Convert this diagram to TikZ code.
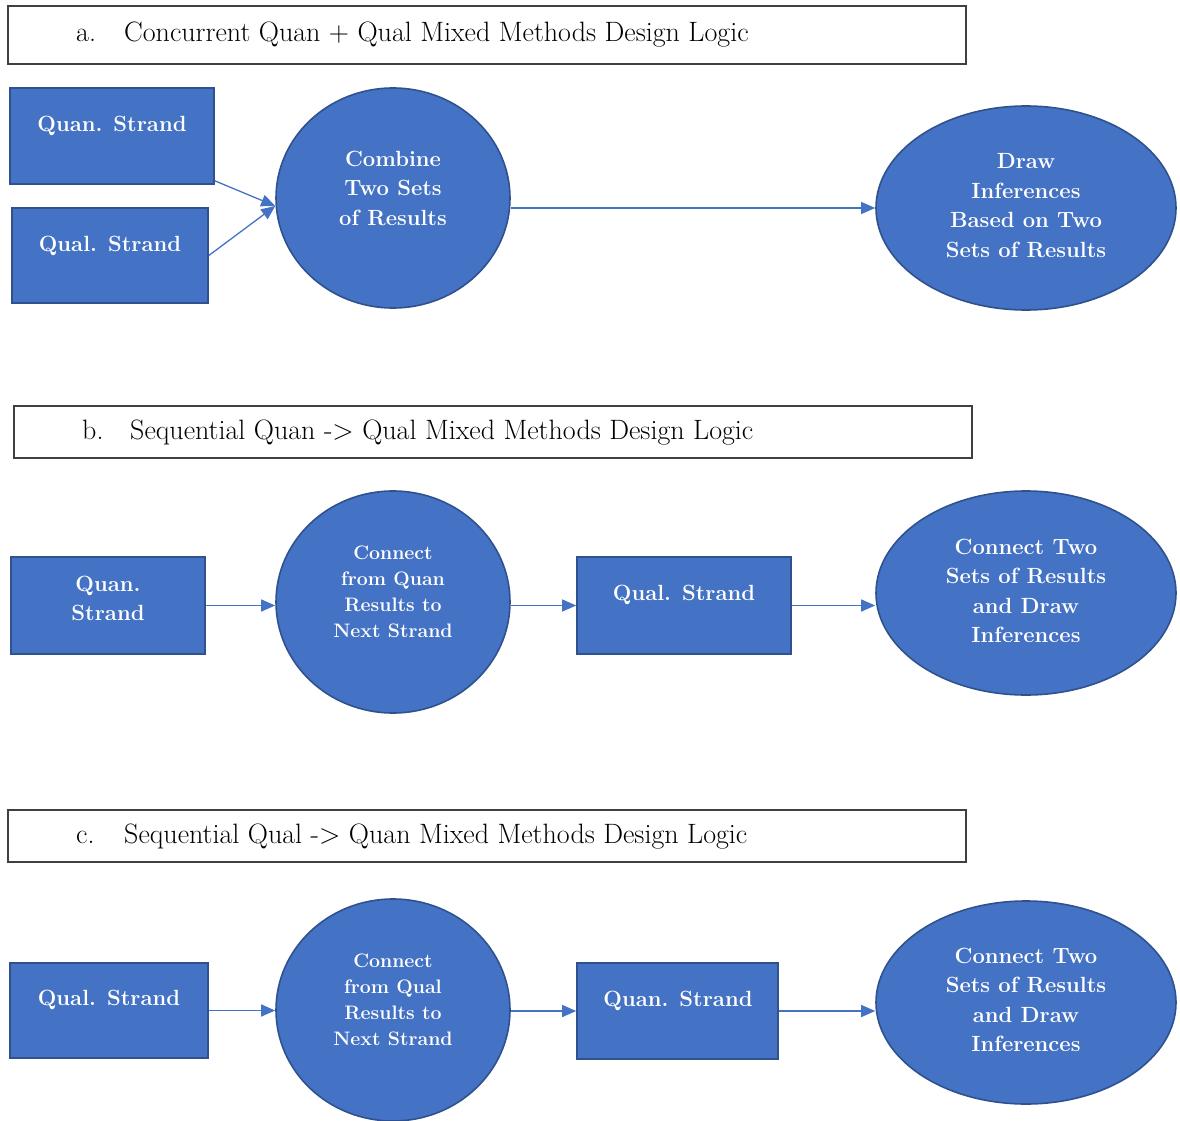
\documentclass[tikz,border=0pt]{standalone}
\usetikzlibrary{arrows.meta,shapes.geometric}
\definecolor{fillblue}{HTML}{4472C4}
\definecolor{edgeblue}{HTML}{2F528F}
\definecolor{framegray}{HTML}{404040}
\begin{document}
\begin{tikzpicture}[x=1pt,y=-1pt,
  box/.style={draw=edgeblue,line width=1.6pt,fill=fillblue,rectangle,inner sep=0pt},
  oval/.style={draw=edgeblue,line width=1.6pt,fill=fillblue,ellipse,inner sep=0pt},
  titlebox/.style={draw=framegray,line width=1.2pt,rectangle,inner sep=0pt},
  titletxt/.style={anchor=west,inner sep=0pt,font=\fontsize{28}{32}\selectfont},
  btxt/.style={text=white,align=center,inner sep=0pt,font=\bfseries\fontsize{22}{29.5}\selectfont},
  stxt/.style={text=white,align=center,inner sep=0pt,font=\bfseries\fontsize{19.5}{26}\selectfont},
  arr/.style={draw=fillblue,line width=1.3pt,-{Triangle[length=14pt,width=12pt]}}
]
\useasboundingbox (0,0) rectangle (1180,1121);

% ---------- a ----------
\node[titlebox,minimum width=958pt,minimum height=58pt] (ta) at (487,35) {};
\node[titletxt] (tat) at (76,35) {\makebox[48pt][l]{a.}Concurrent Quan + Qual Mixed Methods Design Logic};

\node[box,minimum width=204pt,minimum height=96pt] (qa) at (112,136) {};
\node[btxt] (qat) at (112,126) {Quan. Strand};
\node[box,minimum width=196pt,minimum height=95pt] (la) at (110,255.5) {};
\node[btxt] (lat) at (110,246) {Qual. Strand};
\node[oval,minimum width=234pt,minimum height=220pt] (ca) at (393,198) {};
\node[btxt] (cat) at (393,188) {Combine\\Two Sets\\of Results};
\node[oval,minimum width=300pt,minimum height=204pt] (da) at (1026,208) {};
\node[btxt] (dat) at (1026,205.5) {Draw\\Inferences\\Based on Two\\Sets of Results};

\coordinate (qaout) at ([yshift=4pt]qa.south east);
\coordinate (caIn) at ([yshift=-8pt]ca.west);
\draw[arr] (qaout) -- (caIn);
\draw[arr] (la.east) -- (caIn);
\draw[arr] (ca.east |- da.west) -- (da.west);

% ---------- b ----------
\node[titlebox,minimum width=958pt,minimum height=52pt] (tb) at (493,432) {};
\node[titletxt] (tbt) at (82,433) {\makebox[48pt][l]{b.}Sequential Quan -> Qual Mixed Methods Design Logic};

\node[box,minimum width=194pt,minimum height=97pt] (qb) at (108,605.5) {};
\node[btxt] (qbt) at (108,598.5) {Quan.\\Strand};
\node[oval,minimum width=234pt,minimum height=222pt] (cb) at (393,602) {};
\node[stxt] (cbt) at (393,592) {Connect\\from Quan\\Results to\\Next Strand};
\node[box,minimum width=214pt,minimum height=97pt] (lb) at (684,605.5) {};
\node[btxt] (lbt) at (684,595) {Qual. Strand};
\node[oval,minimum width=300pt,minimum height=204pt] (db) at (1026,593) {};
\node[btxt] (dbt) at (1026,591) {Connect Two\\Sets of Results\\and Draw\\Inferences};

\draw[arr] (qb.east) -- (qb.east -| cb.west);
\draw[arr] (cb.east |- lb.west) -- (lb.west);
\draw[arr] (lb.east) -- (lb.east -| db.west);

% ---------- c ----------
\node[titlebox,minimum width=958pt,minimum height=52pt] (tc) at (487,836) {};
\node[titletxt] (tct) at (76,837) {\makebox[48pt][l]{c.}Sequential Qual -> Quan Mixed Methods Design Logic};

\node[box,minimum width=198pt,minimum height=95pt] (lc) at (109,1010.5) {};
\node[btxt] (lct) at (109,1000) {Qual. Strand};
\node[oval,minimum width=234pt,minimum height=222pt] (cc) at (393,1010) {};
\node[stxt] (cct) at (393,1000) {Connect\\from Qual\\Results to\\Next Strand};
\node[box,minimum width=201pt,minimum height=96pt] (qc) at (677.5,1011) {};
\node[btxt] (qct) at (678,1001) {Quan. Strand};
\node[oval,minimum width=300pt,minimum height=203pt] (dc) at (1026,1002.5) {};
\node[btxt] (dct) at (1026,1000) {Connect Two\\Sets of Results\\and Draw\\Inferences};

\draw[arr] (lc.east) -- (lc.east -| cc.west);
\draw[arr] (cc.east |- qc.west) -- (qc.west);
\draw[arr] (qc.east) -- (qc.east -| dc.west);
\end{tikzpicture}
\end{document}
